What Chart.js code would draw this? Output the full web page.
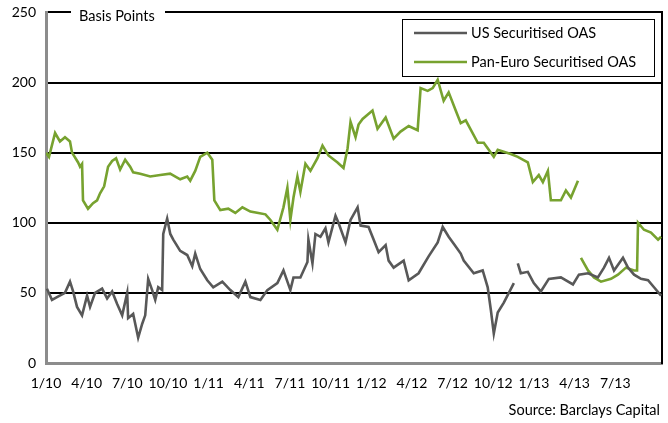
<!DOCTYPE html>
<html lang="en">
<head>
    <script src="https://cdn.jsdelivr.net/npm/chart.js@4.4.0/dist/chart.umd.min.js"></script>
    <style>
        body { margin: 0; background: #fff; overflow: hidden; }
        /* shifted up so the 250 line sits near the top edge */
        #wrap { width: 668px; height: 429px; margin-top: -6px; }
    </style>
</head>

<body>
<div id="wrap"><canvas id="myChart"></canvas></div>
<script>
    // months counted from Jan 2010, null = break in the series
    const tickLabels = ['1/10', '4/10', '7/10', '10/10', '1/11', '4/11', '7/11', '10/11',
                        '1/12', '4/12', '7/12', '10/12', '1/13', '4/13', '7/13'];

    const usMonths = [0.07, 0.44, 0.81, 1.40, 1.77, 2.00, 2.29, 2.66, 3.03, 3.25, 3.62, 4.14, 4.51, 4.88,
        5.25, 5.62, 5.99, 6.06, 6.43, 6.80, 7.10, 7.32, 7.54, 7.83, 8.06, 8.28, 8.57, 8.65, 8.94, 9.17,
        9.39, 9.90, 10.42, 10.79, 11.01, 11.38, 11.90, 12.34, 13.01, 13.60, 14.19, 14.71, 15.08, 15.82,
        16.33, 17.07, 17.52, 18.03, 18.26, 18.77, 19.29, 19.36, 19.66, 19.88, 20.25, 20.62, 20.84, 21.36,
        21.58, 22.10, 22.47, 22.99, 23.21, 23.80, 24.17, 24.54, 25.06, 25.28, 25.65, 26.39, 26.76, 27.49,
        28.23, 28.90, 29.27, 29.71, 30.23, 30.60, 30.82, 31.56, 32.22, 32.59, 32.82, 33.04, 33.33, 33.78,
        34.52, 34.66, 34.81, 35.03, 35.55, 35.99, 36.51, 37.10, 37.99, 38.88, 39.32, 39.99, 40.72, 41.17,
        41.54, 41.91, 42.57, 42.94, 43.39, 43.90, 44.42, 44.86, 45.38];
    const usValues = [53, 45, 47, 50, 58, 51, 40, 34, 48, 40, 50, 53, 46, 51,
        42, 34, 50, 32, 35, 18, 28, 34, 60, 52, 45, 54, 52, 92, 103, 92,
        88, 80, 77, 69, 78, 67, 59, 54, 58, 52, 47, 58, 47, 45,
        52, 57, 66, 52, 61, 61, 72, 88, 71, 92, 90, 96, 86, 105,
        100, 86, 102, 111, 98, 97, 88, 79, 84, 73, 68, 73, 59, 64,
        76, 86, 97, 90, 83, 78, 73, 64, 66, 54, 38, 21, 36, 43,
        57, null, 71, 64, 65, 57, 51, 60, 61, 56, 63, 64, 61, 68,
        75, 66, 75, 68, 63, 60, 59, 54, 48];

    const euroMonths = [0.00, 0.22, 0.67, 1.03, 1.40, 1.77, 1.92, 2.37, 2.51, 2.66, 2.73, 3.10, 3.47, 3.77,
        3.99, 4.29, 4.58, 4.88, 5.17, 5.47, 5.84, 6.21, 6.43, 6.95, 7.69, 8.43, 9.16, 9.90, 10.42, 10.64,
        11.01, 11.38, 11.90, 12.27, 12.42, 12.86, 13.45, 13.97, 14.49, 15.08, 15.67, 16.19, 16.56, 17.07,
        17.52, 17.81, 18.03, 18.26, 18.55, 18.77, 19.14, 19.51, 20.03, 20.40, 20.84, 21.51, 21.95, 22.25,
        22.47, 22.84, 23.06, 23.36, 24.09, 24.46, 25.06, 25.65, 26.16, 26.76, 27.42, 27.64, 28.16, 28.53,
        28.90, 29.34, 29.71, 30.23, 30.60, 30.97, 31.86, 32.30, 33.04, 33.33, 34.29, 34.81, 35.55, 35.92,
        36.36, 36.66, 37.03, 37.25, 37.99, 38.36, 38.73, 39.25, 39.36, 39.47, 39.99, 40.43, 40.95, 41.69,
        42.20, 42.79, 43.39, 43.61, 43.68, 44.12, 44.64, 45.16, 45.38];
    const euroValues = [150, 147, 164, 158, 161, 158, 150, 143, 140, 142, 116, 110, 114, 116,
        121, 126, 140, 144, 146, 138, 145, 140, 136, 135, 133, 134, 135, 131, 133, 130,
        137, 147, 150, 145, 116, 109, 110, 107, 111, 108, 107, 106, 102, 95,
        111, 125, 102, 118, 133, 122, 142, 137, 146, 155, 148, 143, 139, 153,
        172, 161, 170, 174, 180, 167, 175, 160, 165, 169, 166, 196, 194, 196,
        202, 187, 193, 180, 171, 173, 157, 157, 147, 152, 149, 147, 143, 129,
        134, 129, 137, 116, 116, 123, 118, 130, null, 75, 66, 61, 58, 60,
        63, 68, 66, 66, 100, 95, 93, 88, 90];

    const usData = usMonths.map((m, i) => ({ x: m, y: usValues[i] }));
    const euroData = euroMonths.map((m, i) => ({ x: m, y: euroValues[i] }));

    const FONT = 'Lato, "Open Sans", sans-serif';
    const SHIFT = 6; // canvas is moved up by this many pixels

    const extras = {
        id: 'extras',
        afterDraw(chart) {
            const ctx = chart.ctx;
            const area = chart.chartArea;
            ctx.save();
            // unit label sitting on the top gridline
            ctx.fillStyle = '#fff';
            ctx.fillRect(area.left + 25, area.top - 6, 94, 12);
            ctx.fillStyle = '#000';
            ctx.font = '14.5px ' + FONT;
            ctx.textBaseline = 'middle';
            ctx.textAlign = 'left';
            ctx.fillText('Basis Points', area.left + 33, area.top + 4);

            // boxed legend inside the plot
            const bx = 402, by = 19 + SHIFT, bw = 252, bh = 57;
            ctx.fillStyle = '#fff';
            ctx.fillRect(bx, by, bw, bh);
            ctx.strokeStyle = '#000';
            ctx.lineWidth = 1;
            ctx.strokeRect(bx + 0.5, by + 0.5, bw, bh);
            chart.data.datasets.forEach((ds, i) => {
                const y = by + 14 + i * 29;
                ctx.strokeStyle = ds.borderColor;
                ctx.lineWidth = 2.5;
                ctx.beginPath();
                ctx.moveTo(bx + 12, y);
                ctx.lineTo(bx + 65, y);
                ctx.stroke();
                ctx.fillStyle = '#000';
                ctx.fillText(ds.label, bx + 69, y);
            });

            // source line
            ctx.textAlign = 'right';
            ctx.fillText('Source: Barclays Capital', 660, 410 + SHIFT);
            ctx.restore();
        }
    };

    const config = {
        type: 'line',
        data: {
            datasets: [
                {
                    label: 'US Securitised OAS',
                    borderColor: '#585858',
                    backgroundColor: '#585858',
                    data: usData
                },
                {
                    label: 'Pan-Euro Securitised OAS',
                    borderColor: '#77a22f',
                    backgroundColor: '#77a22f',
                    data: euroData
                }
            ]
        },
        options: {
            responsive: true,
            maintainAspectRatio: false,
            animation: false,
            spanGaps: false,
            elements: {
                point: { radius: 0 },
                line: { borderWidth: 2.6, tension: 0 }
            },
            layout: { padding: { top: 0, right: 5, bottom: 0, left: 0 } },
            plugins: {
                legend: { display: false },
                tooltip: { enabled: false }
            },
            scales: {
                x: {
                    type: 'linear',
                    min: 0,
                    max: 45.45,
                    afterBuildTicks: scale => {
                        scale.ticks = tickLabels.map((l, i) => ({ value: i * 3 }));
                    },
                    afterFit: scale => { scale.height = 60; },
                    ticks: {
                        padding: 12,
                        maxRotation: 0,
                        autoSkip: false,
                        color: '#000',
                        font: { family: FONT, size: 14 },
                        callback: (v, i) => tickLabels[i]
                    },
                    grid: { color: 'transparent', drawTicks: false },
                    border: { color: '#8c8c8c', width: 3 }
                },
                y: {
                    min: 0,
                    max: 250,
                    afterFit: scale => { scale.width = 46; },
                    ticks: {
                        stepSize: 50,
                        padding: 10,
                        color: '#000',
                        font: { family: FONT, size: 14 }
                    },
                    grid: {
                        drawTicks: false,
                        lineWidth: 2,
                        color: c => c.tick && c.tick.value === 0 ? 'transparent' : '#000'
                    },
                    border: { color: '#8c8c8c', width: 3 }
                },
                y2: {
                    position: 'right',
                    min: 0,
                    max: 250,
                    afterFit: scale => { scale.width = 1; },
                    ticks: { display: false },
                    grid: { display: false, drawTicks: false },
                    border: { color: '#000', width: 2 }
                }
            }
        },
        plugins: [extras]
    };

    const myChart = new Chart(
        document.getElementById('myChart'),
        config
    );
</script>
</body>
</html>
